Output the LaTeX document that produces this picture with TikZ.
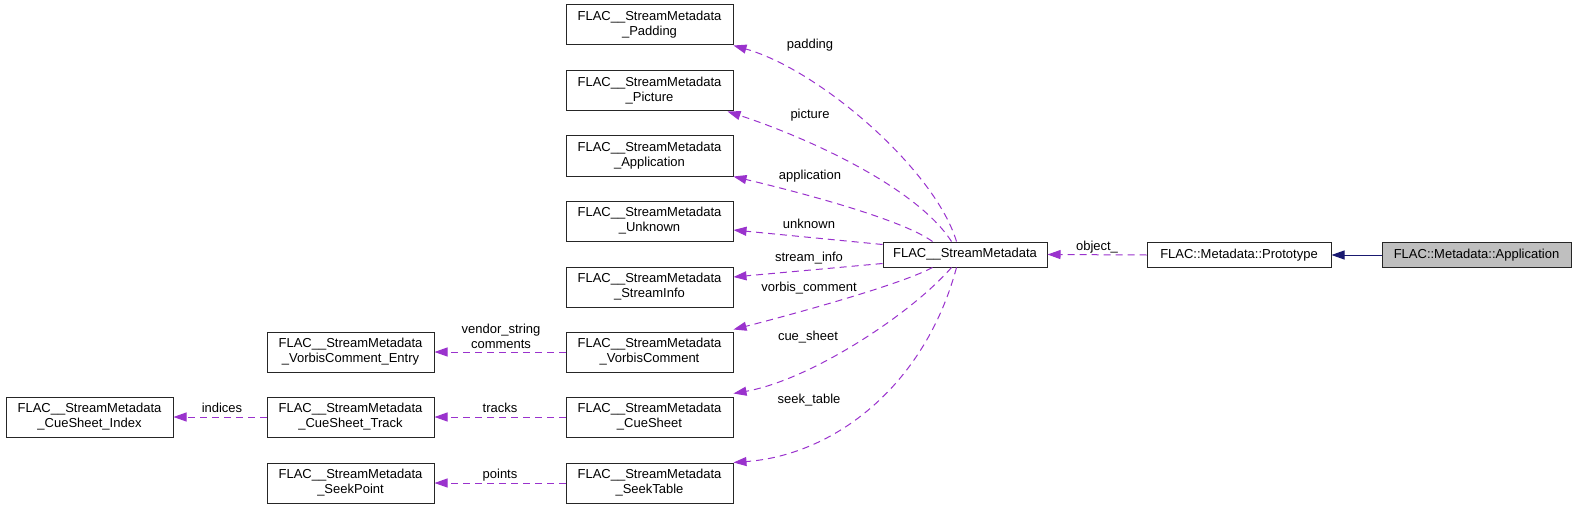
\documentclass[tikz,border=0pt]{standalone}
\usepackage{fontspec}
\setmainfont{Liberation Sans}
\usetikzlibrary{arrows.meta,calc}
\definecolor{edgepurple}{HTML}{9A32CD}
\definecolor{edgeblue}{HTML}{191970}
\definecolor{boxgray}{HTML}{BFBFBF}
\tikzset{
  cls/.style={draw=black!85, line width=1pt, inner sep=0pt, align=center,
    font=\fontsize{13}{15}\selectfont, minimum width=167pt, minimum height=40pt},
  cls1/.style={draw=black!85, line width=1pt, inner sep=0pt, align=center,
    font=\fontsize{13}{15}\selectfont, minimum height=25pt},
  lbl/.style={inner sep=0pt, align=center, font=\fontsize{13}{15}\selectfont},
  usage/.style={draw=edgepurple, line width=1pt, dash pattern=on 7pt off 5pt,
    -{Triangle[length=13pt,width=9pt]}, fill=none},
  inherit/.style={draw=edgeblue, line width=1pt,
    -{Triangle[length=13pt,width=9pt]}},
}
\begin{document}
\begin{tikzpicture}[x=1pt,y=-1pt]
\useasboundingbox (0,0) rectangle (1579,508);

% member boxes
\node[cls] (padding) at (649.5,25) {FLAC\_\_StreamMetadata\\\_Padding};
\node[cls] (picture) at (649.5,91) {FLAC\_\_StreamMetadata\\\_Picture};
\node[cls] (application) at (649.5,156) {FLAC\_\_StreamMetadata\\\_Application};
\node[cls] (unknown) at (649.5,221) {FLAC\_\_StreamMetadata\\\_Unknown};
\node[cls] (streaminfo) at (649.5,287) {FLAC\_\_StreamMetadata\\\_StreamInfo};
\node[cls] (vorbis) at (649.5,352) {FLAC\_\_StreamMetadata\\\_VorbisComment};
\node[cls] (cuesheet) at (649.5,417) {FLAC\_\_StreamMetadata\\\_CueSheet};
\node[cls] (seektable) at (649.5,483) {FLAC\_\_StreamMetadata\\\_SeekTable};

\node[cls] (entry) at (350.5,352) {FLAC\_\_StreamMetadata\\\_VorbisComment\_Entry};
\node[cls] (track) at (350.5,417) {FLAC\_\_StreamMetadata\\\_CueSheet\_Track};
\node[cls] (index) at (89.5,417) {FLAC\_\_StreamMetadata\\\_CueSheet\_Index};
\node[cls] (seekpoint) at (350.5,483) {FLAC\_\_StreamMetadata\\\_SeekPoint};

\node[cls1, minimum width=164pt] (sm) at (965,254.5) {FLAC\_\_StreamMetadata};
\node[cls1, minimum width=184pt] (proto) at (1239,255) {FLAC::Metadata::Prototype};
\node[cls1, minimum width=189pt, fill=boxgray] (app) at (1476.5,255) {FLAC::Metadata::Application};

% edges from StreamMetadata
\draw[usage] ($(sm.north west)+(74,0)$) .. controls (935,170) and (820,70) .. (padding.south east);
\draw[usage] ($(sm.north west)+(69,0)$) .. controls (915,185) and (800,135) .. ($(picture.south east)+(-6,0)$);
\draw[usage] ($(sm.north west)+(50,0)$) .. controls (900,218) and (790,190) .. (application.south east);
\draw[usage] ($(sm.north west)+(0,3)$) -- ($(unknown.east)+(0,9)$);
\draw[usage] ($(sm.south west)+(0,-4)$) -- ($(streaminfo.east)+(0,-10)$);
\draw[usage] ($(sm.south west)+(50,0)$) .. controls (900,285) and (790,315) .. ($(vorbis.north east)+(0,-2)$);
\draw[usage] ($(sm.south west)+(69,0)$) .. controls (910,315) and (810,380) .. ($(cuesheet.north east)+(0,-3)$);
\draw[usage] ($(sm.south west)+(74,0)$) .. controls (925,385) and (835,455) .. (seektable.north east);

\node[lbl] (lpadding) at (810,45) {padding};
\node[lbl] (lpicture) at (810,115) {picture};
\node[lbl] (lapplication) at (810,176) {application};
\node[lbl] (lunknown) at (809,224) {unknown};
\node[lbl] (lstreaminfo) at (809,258) {stream\_info};
\node[lbl] (lvorbis) at (809,288) {vorbis\_comment};
\node[lbl] (lcue) at (808,337) {cue\_sheet};
\node[lbl] (lseek) at (809,400) {seek\_table};

% horizontal edges
\draw[usage] (vorbis.west) -- (entry.east);
\node[lbl] (lvendor) at (501,336) {vendor\_string\\comments};
\draw[usage] (cuesheet.west) -- (track.east);
\node[lbl] (ltracks) at (500,408) {tracks};
\draw[usage] (track.west) -- (index.east);
\node[lbl] (lindices) at (222,408) {indices};
\draw[usage] (seektable.west) -- (seekpoint.east);
\node[lbl] (lpoints) at (500,475) {points};

\draw[usage] (proto.west) -- (sm.east);
\node[lbl] (lobject) at (1097,247) {object\_};
\draw[inherit] (app.west) -- (proto.east);
\end{tikzpicture}
\end{document}
